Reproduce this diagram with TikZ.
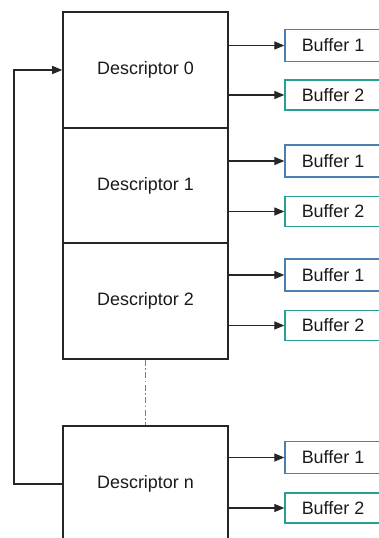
\documentclass[tikz,border=0pt]{standalone}
\usepackage{fontspec}
\setmainfont{Liberation Sans}
\usetikzlibrary{arrows.meta,calc}
\definecolor{txt}{HTML}{1A1A1A}
\definecolor{line}{HTML}{262626}
\definecolor{bufA}{HTML}{4A80B0}
\definecolor{bufB}{HTML}{26A092}
\tikzset{
  lbl/.style={text=txt, font=\fontsize{18}{21}\selectfont},
  desc/.style={lbl, draw=line, line width=1.5bp, minimum width=165bp, minimum height=116bp, inner sep=0},
  bufone/.style={lbl, draw=bufA, line width=1.3bp, minimum width=96bp, minimum height=32bp, inner sep=0},
  buftwo/.style={lbl, draw=bufB, line width=1.3bp, minimum width=96bp, minimum height=30bp, inner sep=0},
  arr/.style={draw=line, line width=1.2bp, -{Triangle[length=10bp,width=8bp]}},
}
\begin{document}
\begin{tikzpicture}[x=1bp,y=-1bp]
\useasboundingbox (0,0) rectangle (378,538);
\node[desc] (d0) at (145.5,70) {Descriptor 0};
\node[desc] (d1) at (145.5,185.5) {Descriptor 1};
\node[desc] (d2) at (145.5,301) {Descriptor 2};
\node[desc] (dn) at (145.5,484) {Descriptor n};

\node[bufone] (b01) at (333,45.5) {Buffer 1};
\node[buftwo] (b02) at (333,95) {Buffer 2};
\node[bufone] (b11) at (333,161) {Buffer 1};
\node[buftwo] (b12) at (333,211.5) {Buffer 2};
\node[bufone] (b21) at (333,275) {Buffer 1};
\node[buftwo] (b22) at (333,325.5) {Buffer 2};
\node[bufone] (bn1) at (333,457.5) {Buffer 1};
\node[buftwo] (bn2) at (333,508) {Buffer 2};

\foreach \d/\a/\b in {d0/b01/b02, d1/b11/b12, d2/b21/b22, dn/bn1/bn2}{
  \draw[arr] (\d.east |- \a.west) -- (\a.west);
  \draw[arr] (\d.east |- \b.west) -- (\b.west);
}

\draw[gray, line width=1.3bp, dash pattern=on 6bp off 2.5bp on 1.5bp off 2.5bp] (d2.south) -- (dn.north);

\coordinate (lp) at (14,0);
\draw[arr] (dn.west) -- (lp |- dn.west) -- (lp |- d0.west) -- (d0.west);
\end{tikzpicture}
\end{document}
